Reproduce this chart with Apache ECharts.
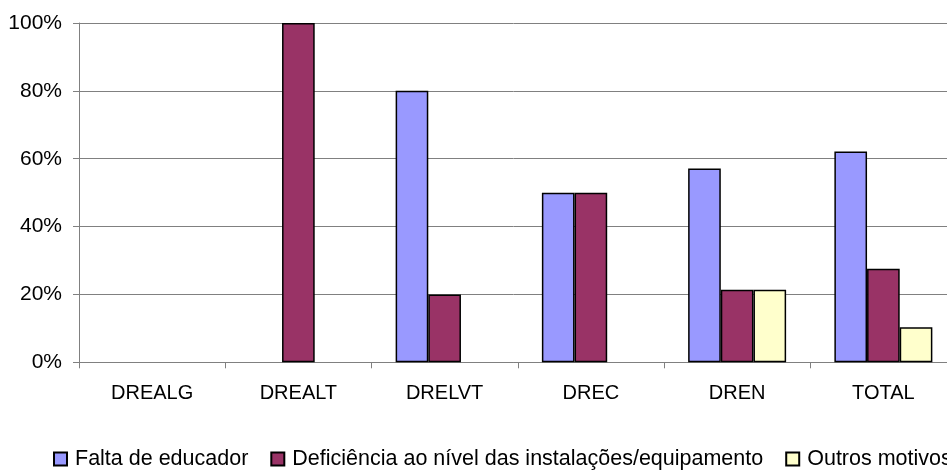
<!DOCTYPE html>
<html>
<head>
<meta charset="utf-8">
<script src="https://cdn.jsdelivr.net/npm/echarts@6/dist/echarts.min.js"></script>
<style>
html,body{margin:0;padding:0;background:#fff;}
#chart{width:947px;height:470px;}
</style>
</head>
<body>
<div id="chart"></div>
<script>
var categories = ['DREALG', 'DREALT', 'DRELVT', 'DREC', 'DREN', 'TOTAL'];
var seriesNames = ['Falta de educador', 'Deficiência ao nível das instalações/equipamento', 'Outros motivos'];
var faltaEducador = [0, 0, 0.80, 0.50, 0.571, 0.621];
var deficiencia = [0, 1.00, 0.20, 0.50, 0.214, 0.276];
var outrosMotivos = [0, 0, 0, 0, 0.214, 0.103];
var yTicks = [0, 0.2, 0.4, 0.6, 0.8, 1.0];
var colors = ['#9999FF', '#993366', '#FFFFCC'];

var FONT = 'Liberation Sans, Arial, sans-serif';
function clean(arr) { return arr.map(function (v) { return v === 0 ? null : v; }); }
var values = [faltaEducador, deficiencia, outrosMotivos];

var chart = echarts.init(document.getElementById('chart'), null, { renderer: 'canvas' });
chart.setOption({
  animation: false,
  backgroundColor: '#ffffff',
  textStyle: { fontFamily: FONT, color: '#000' },
  grid: { left: 79, width: 877.5, top: 23, height: 339.3, containLabel: false, outerBoundsMode: 'none' },
  legend: {
    left: 53, top: 448, width: 1000,
    padding: 0,
    icon: 'rect',
    itemWidth: 13, itemHeight: 13, itemGap: 22,
    textStyle: { fontFamily: FONT, fontSize: 21.5, color: '#000', padding: [0, 0, 0, 3] },
    data: seriesNames
  },
  xAxis: {
    type: 'category',
    data: categories,
    axisLine: { lineStyle: { color: '#808080', width: 1 } },
    axisTick: { show: true, length: 6, lineStyle: { color: '#808080' } },
    axisLabel: { fontFamily: FONT, fontSize: 20, color: '#000', margin: 21, interval: 0 },
    splitLine: { show: false }
  },
  yAxis: {
    type: 'value',
    min: yTicks[0], max: yTicks[yTicks.length - 1], interval: 0.2,
    axisLine: { show: true, lineStyle: { color: '#808080', width: 1 } },
    axisTick: { show: true, length: 6, lineStyle: { color: '#808080' } },
    axisLabel: {
      fontFamily: FONT, fontSize: 21, color: '#000', margin: 17,
      formatter: function (v) { return Math.round(v * 100) + '%'; }
    },
    splitLine: { show: true, lineStyle: { color: '#808080', width: 1 } }
  },
  series: seriesNames.map(function (name, i) {
    return {
      name: name,
      type: 'bar',
      data: clean(values[i]),
      barGap: '0%',
      barCategoryGap: '33%',
      itemStyle: { color: colors[i], borderColor: '#000', borderWidth: 1.5 }
    };
  })
});
</script>
</body>
</html>
